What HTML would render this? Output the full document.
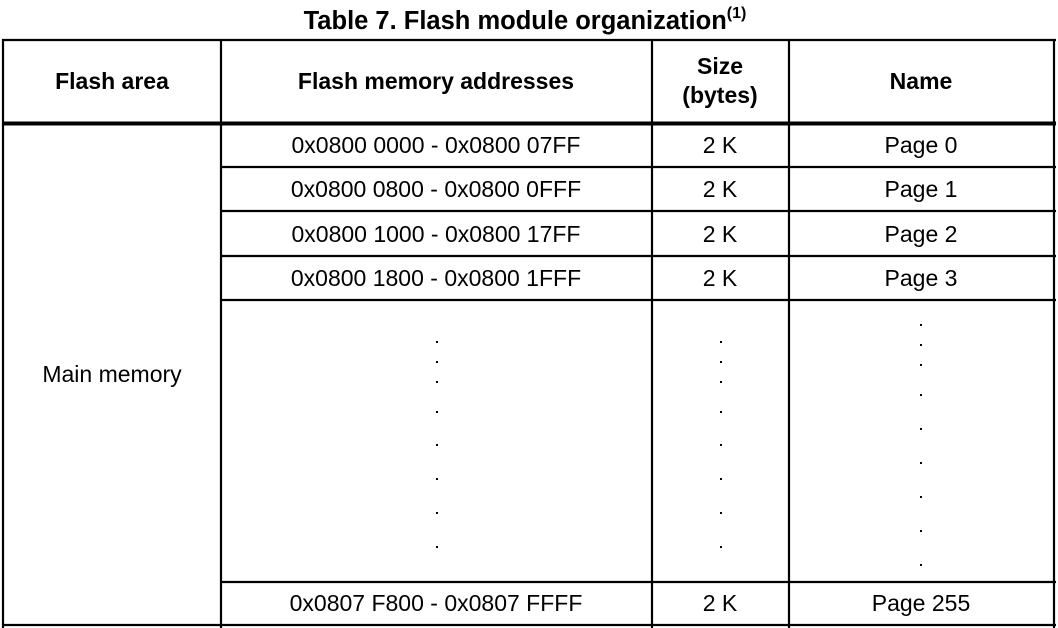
<!DOCTYPE html>
<html><head><style>
html,body{margin:0;padding:0;background:#fff;}
svg{display:block;}
text{font-family:"Liberation Sans",Arial,sans-serif;fill:#000;}
</style></head><body>
<svg width="1058" height="628" viewBox="0 0 1058 628" xmlns="http://www.w3.org/2000/svg">
<text x="525" y="29" text-anchor="middle" font-size="25.5" font-weight="bold">Table 7. Flash module organization<tspan font-size="16" dy="-11">(1)</tspan></text>
<g stroke="#000" fill="none">
<line x1="2" y1="40" x2="1056" y2="40" stroke-width="2.2"/>
<line x1="3" y1="39" x2="3" y2="628" stroke-width="2.2"/>
<line x1="1054" y1="39" x2="1054" y2="628" stroke-width="2.2"/>
<line x1="221" y1="39" x2="221" y2="628" stroke-width="2.2"/>
<line x1="652" y1="39" x2="652" y2="628" stroke-width="2.2"/>
<line x1="789" y1="39" x2="789" y2="628" stroke-width="2.2"/>
<line x1="2" y1="123.5" x2="1056" y2="123.5" stroke-width="4"/>
<line x1="221" y1="167" x2="1056" y2="167" stroke-width="2.2"/>
<line x1="221" y1="211" x2="1056" y2="211" stroke-width="2.2"/>
<line x1="221" y1="256" x2="1056" y2="256" stroke-width="2.2"/>
<line x1="221" y1="300" x2="1056" y2="300" stroke-width="2.2"/>
<line x1="221" y1="582" x2="1056" y2="582" stroke-width="2.2"/>
<line x1="2" y1="625" x2="1056" y2="625" stroke-width="2.2"/>
</g>
<g font-size="23" font-weight="bold" text-anchor="middle">
<text x="112" y="89">Flash area</text>
<text x="436" y="89">Flash memory addresses</text>
<text x="720" y="74">Size</text>
<text x="720" y="103">(bytes)</text>
<text x="921" y="89">Name</text>
</g>
<g font-size="23" text-anchor="middle">
<text x="436" y="153">0x0800 0000 - 0x0800 07FF</text><text x="720" y="153">2 K</text><text x="921" y="153">Page 0</text>
<text x="436" y="197">0x0800 0800 - 0x0800 0FFF</text><text x="720" y="197">2 K</text><text x="921" y="197">Page 1</text>
<text x="436" y="242">0x0800 1000 - 0x0800 17FF</text><text x="720" y="242">2 K</text><text x="921" y="242">Page 2</text>
<text x="436" y="286">0x0800 1800 - 0x0800 1FFF</text><text x="720" y="286">2 K</text><text x="921" y="286">Page 3</text>
<text x="436" y="611">0x0807 F800 - 0x0807 FFFF</text><text x="720" y="611">2 K</text><text x="921" y="611">Page 255</text>
<text x="112" y="382">Main memory</text>
</g>
<g fill="#000">
<rect x="436" y="341" width="2" height="2"/><rect x="436" y="361" width="2" height="2"/><rect x="436" y="381" width="2" height="2"/><rect x="436" y="411" width="2" height="2"/><rect x="436" y="444" width="2" height="2"/><rect x="436" y="478" width="2" height="2"/><rect x="436" y="512" width="2" height="2"/><rect x="436" y="546" width="2" height="2"/>
<rect x="720" y="341" width="2" height="2"/><rect x="720" y="361" width="2" height="2"/><rect x="720" y="381" width="2" height="2"/><rect x="720" y="411" width="2" height="2"/><rect x="720" y="444" width="2" height="2"/><rect x="720" y="478" width="2" height="2"/><rect x="720" y="512" width="2" height="2"/><rect x="720" y="546" width="2" height="2"/>
<rect x="920" y="324" width="2" height="2"/><rect x="920" y="344" width="2" height="2"/><rect x="920" y="364" width="2" height="2"/><rect x="920" y="394" width="2" height="2"/><rect x="920" y="428" width="2" height="2"/><rect x="920" y="462" width="2" height="2"/><rect x="920" y="496" width="2" height="2"/><rect x="920" y="530" width="2" height="2"/><rect x="920" y="564" width="2" height="2"/>
</g>
</svg>
</body></html>
